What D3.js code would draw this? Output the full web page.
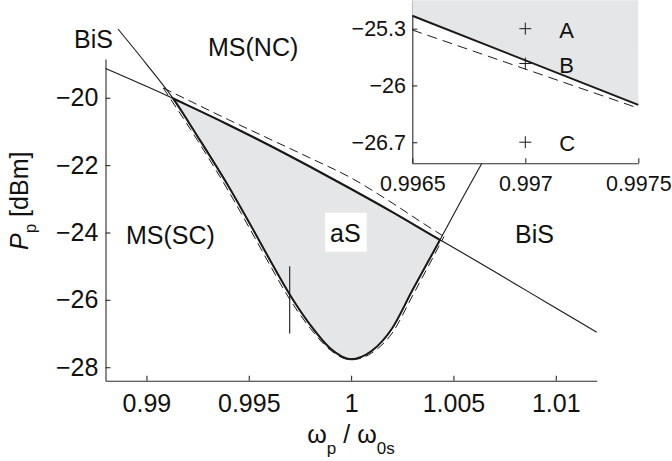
<!DOCTYPE html>
<html><head><meta charset="utf-8">
<script src="https://cdn.jsdelivr.net/npm/d3@7"></script>
<style>
body{margin:0;background:#fff;}
svg{display:block;font-family:"Liberation Sans",Arial,Helvetica,sans-serif;}
</style></head><body>
<svg id="chart" width="672" height="461"></svg>
<script>
// ---------- data ----------
const xTicks = [0.99, 0.995, 1, 1.005, 1.01];
const xTickLabels = ["0.99", "0.995", "1", "1.005", "1.01"];
const yTicks = [-28, -26, -24, -22, -20];
const yTickLabels = ["\u221228", "\u221226", "\u221224", "\u221222", "\u221220"];

// solid upper boundary (BiS / MS(NC) threshold)
const upperX = [0.988, 0.990, 0.992, 0.994, 0.996, 0.998, 1.000, 1.002, 1.004, 1.006, 1.008, 1.010, 1.012];
const upperY = [-19.13, -19.66, -20.22, -20.80, -21.41, -22.05, -22.71, -23.39, -24.10, -24.80, -25.52, -26.24, -26.96];
// solid V-shaped boundary
const vX = [0.98861, 0.9900, 0.9913, 0.9925, 0.9940, 0.9952, 0.9960, 0.9970, 0.9980, 0.9990, 1.0000, 1.0010, 1.0020, 1.0030, 1.0043, 1.0055, 1.0068];
const vY = [-17.96, -19.00, -20.02, -21.15, -22.62, -23.90, -24.78, -25.84, -26.74, -27.45, -27.76, -27.52, -26.85, -25.71, -24.27, -22.92, -21.50];
// dashed approximations
const dashUpperX = [0.99082, 0.9920, 0.9940, 0.9960, 0.9980, 1.0000, 1.0020, 1.0035, 1.00454];
const dashUpperY = [-19.71, -20.06, -20.65, -21.22, -21.79, -22.38, -23.12, -23.72, -24.12];
const dashVX = [0.99082, 0.9925, 0.9940, 0.9952, 0.9960, 0.9970, 0.9980, 0.9990, 1.0000, 1.0010, 1.0020, 1.0030, 1.00454];
const dashVY = [-19.71, -21.27, -22.76, -24.05, -24.93, -25.98, -26.84, -27.50, -27.78, -27.58, -26.99, -25.88, -24.12];

// zoom marker in main plot
const zoomX = 0.997;
const zoomY = [-25, -27];

// inset
const insetXTicks = [0.9965, 0.997, 0.9975];
const insetXTickLabels = ["0.9965", "0.997", "0.9975"];
const insetYTicks = [-26.7, -26, -25.3];
const insetYTickLabels = ["\u221226.7", "\u221226", "\u221225.3"];
const insetSolidX = [0.9965, 0.9975];
const insetSolidY = [-25.14, -26.24];
const insetDashX = [0.9965, 0.9975];
const insetDashY = [-25.316, -26.28];
const pointNames = ["A", "B", "C"];
const pointX = [0.997, 0.997, 0.997];
const pointY = [-25.3, -25.73, -26.7];

// region labels
const regionLabels = ["BiS", "MS(NC)", "MS(SC)", "aS", "BiS"];

// ---------- drawing ----------
const svg = d3.select("#chart");
const ink = "#1a1a1a", axisCol = "#2b2b2b", fillCol = "#e5e6e8";

const x = d3.scaleLinear().domain([0.988, 1.012]).range([105.5, 596.7]);
const y = d3.scaleLinear().domain([-28.4, -18.85]).range([380.7, 59]);

const zip = (xs, ys) => xs.map((v, i) => [v, ys[i]]);
const upper = zip(upperX, upperY), vc = zip(vX, vY);
const du = zip(dashUpperX, dashUpperY), dv = zip(dashVX, dashVY);

const line = d3.line().x(d => x(d[0])).y(d => y(d[1])).curve(d3.curveMonotoneX);

const defs = svg.append("defs");
defs.append("clipPath").attr("id", "aboveV").append("path")
  .attr("d", d3.area().x(d => x(d[0])).y0(d => y(d[1])).y1(-100).curve(d3.curveMonotoneX)(vc));
defs.append("clipPath").attr("id", "belowUpper").append("path")
  .attr("d", d3.area().x(d => x(d[0])).y0(d => y(d[1])).y1(600).curve(d3.curveMonotoneX)(upper));

// axes
const gx = svg.append("g").attr("transform", `translate(0,${y.range()[0]})`)
  .call(d3.axisBottom(x).tickValues(xTicks).tickFormat((d, i) => xTickLabels[i])
        .tickSizeInner(-5).tickSizeOuter(0).tickPadding(13.5));
const gy = svg.append("g").attr("transform", `translate(${x.range()[0]},0)`)
  .call(d3.axisLeft(y).tickValues(yTicks).tickFormat((d, i) => yTickLabels[i])
        .tickSizeInner(-5).tickSizeOuter(0).tickPadding(7.2));
[gx, gy].forEach(g => {
  g.select(".domain").attr("stroke", axisCol).attr("stroke-width", 1.1);
  g.selectAll(".tick line").attr("stroke", axisCol).attr("stroke-width", 1.1);
  g.selectAll(".tick text").attr("font-size", 25).attr("fill", "#111")
    .attr("font-family", "Liberation Sans, Arial, sans-serif");
});

// gray region (between upper and V)
svg.append("path")
  .attr("d", d3.area().x(d => x(d[0])).y0(d => y(d[1])).y1(600).curve(d3.curveMonotoneX)(upper))
  .attr("fill", fillCol).attr("clip-path", "url(#aboveV)");

// thin full curves
svg.append("path").attr("d", line(upper)).attr("fill", "none").attr("stroke", ink).attr("stroke-width", 1.15);
svg.append("path").attr("d", line(vc)).attr("fill", "none").attr("stroke", ink).attr("stroke-width", 1.1);
// dashed curves
[du, dv].forEach(d => svg.append("path").attr("d", line(d)).attr("fill", "none")
  .attr("stroke", ink).attr("stroke-width", 1).attr("stroke-dasharray", "9,5"));
// bold boundary of the gray region
svg.append("path").attr("d", line(upper)).attr("fill", "none").attr("stroke", ink)
  .attr("stroke-width", 2.1).attr("clip-path", "url(#aboveV)");
svg.append("path").attr("d", line(vc)).attr("fill", "none").attr("stroke", ink)
  .attr("stroke-width", 2).attr("clip-path", "url(#belowUpper)");

// zoom marker segment
svg.append("line").attr("x1", x(zoomX)).attr("x2", x(zoomX))
  .attr("y1", y(zoomY[0])).attr("y2", y(zoomY[1])).attr("stroke", ink).attr("stroke-width", 1.1);

// region labels
const lab = svg.append("g").attr("font-size", 25).attr("fill", "#111");
const labPos = [[74, 48], [208, 56], [126, 243.5], [330, 242], [515, 242.5]];
lab.append("rect").attr("x", 325).attr("y", 212.7).attr("width", 41.7).attr("height", 39).attr("fill", "#fff");
regionLabels.forEach((t, i) => lab.append("text").attr("x", labPos[i][0]).attr("y", labPos[i][1]).text(t));

// axis titles
const yl = svg.append("text").attr("transform", "translate(28,250) rotate(-90)")
  .attr("font-size", 25).attr("fill", "#111");
yl.append("tspan").attr("font-style", "italic").text("P");
yl.append("tspan").attr("font-size", 17).attr("dy", 8).text("p");
yl.append("tspan").attr("dy", -8).text(" [dBm]");

const xl = svg.append("text").attr("x", 351).attr("y", 443).attr("text-anchor", "middle")
  .attr("font-size", 25).attr("fill", "#111");
xl.append("tspan").text("\u03c9");
xl.append("tspan").attr("dy", 10.5).attr("font-size", 17).text("p");
xl.append("tspan").attr("dy", -10.5).text(" / \u03c9");
xl.append("tspan").attr("dy", 10.5).attr("font-size", 17).text("0s");

// ---------- inset ----------
const ix = d3.scaleLinear().domain([0.9965, 0.9975]).range([412.3, 638.3]);
const iy = d3.scaleLinear().domain([-26.96, -24.95]).range([163.3, 0.3]);
const ig = svg.append("g");
ig.append("rect").attr("x", ix.range()[0]).attr("y", iy.range()[1])
  .attr("width", ix.range()[1] - ix.range()[0]).attr("height", iy.range()[0] - iy.range()[1]).attr("fill", "#fff");

const igx = ig.append("g").attr("transform", `translate(0,${iy.range()[0]})`)
  .call(d3.axisBottom(ix).tickValues(insetXTicks).tickFormat((d, i) => insetXTickLabels[i])
        .tickSizeInner(-5).tickSizeOuter(0).tickPadding(12.9));
const igy = ig.append("g").attr("transform", `translate(${ix.range()[0]},0)`)
  .call(d3.axisLeft(iy).tickValues(insetYTicks).tickFormat((d, i) => insetYTickLabels[i])
        .tickSizeInner(-5).tickSizeOuter(0).tickPadding(6.3));
[igx, igy].forEach(g => {
  g.select(".domain").attr("stroke", axisCol).attr("stroke-width", 1.1);
  g.selectAll(".tick line").attr("stroke", axisCol).attr("stroke-width", 1.1);
  g.selectAll(".tick text").attr("font-size", 21.5).attr("fill", "#111")
    .attr("font-family", "Liberation Sans, Arial, sans-serif");
});

const isol = zip(insetSolidX, insetSolidY), idash = zip(insetDashX, insetDashY);
const iline = d3.line().x(d => ix(d[0])).y(d => iy(d[1]));
ig.append("path")
  .attr("d", d3.area().x(d => ix(d[0])).y0(d => iy(d[1])).y1(iy.range()[1])(isol))
  .attr("fill", fillCol);
ig.append("path").attr("d", iline(idash)).attr("fill", "none").attr("stroke", ink)
  .attr("stroke-width", 1).attr("stroke-dasharray", "10,6");
ig.append("path").attr("d", iline(isol)).attr("fill", "none").attr("stroke", ink).attr("stroke-width", 2);

pointNames.forEach((n, i) => {
  const px = ix(pointX[i]), py = iy(pointY[i]), s = 6;
  ig.append("path").attr("d", `M${px - s},${py}H${px + s}M${px},${py - s}V${py + s}`)
    .attr("stroke", ink).attr("stroke-width", 1).attr("fill", "none");
  ig.append("text").attr("x", px + 34).attr("y", py + 9).attr("font-size", 22).attr("fill", "#111").text(n);
});
</script>
</body></html>
